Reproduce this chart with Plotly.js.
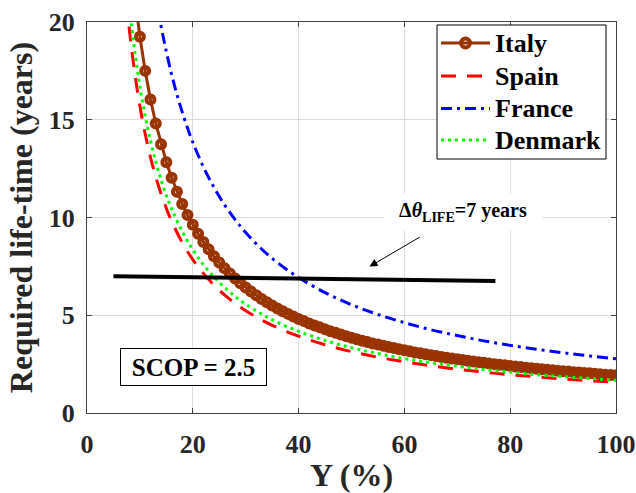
<!DOCTYPE html>
<html>
<head>
<meta charset="utf-8">
<script src="https://cdn.plot.ly/plotly-3.0.1.min.js"></script>
<style>
  html, body { margin: 0; padding: 0; background: #fff; }
  #chart { width: 636px; height: 493px; }
</style>
</head>
<body>
<div id="chart"></div>
<script>
// Yield Y (%) sampled at every integer for the Italy curve (drawn with markers)
const yieldItaly = [
  9, 10, 11, 12, 13, 14, 15, 16, 17, 18, 19, 20, 21, 22, 23, 24, 25, 26, 27, 28, 29, 30,
  31, 32, 33, 34, 35, 36, 37, 38, 39, 40, 41, 42, 43, 44, 45, 46, 47, 48, 49, 50,
  51, 52, 53, 54, 55, 56, 57, 58, 59, 60, 61, 62, 63, 64, 65, 66, 67, 68, 69, 70,
  71, 72, 73, 74, 75, 76, 77, 78, 79, 80, 81, 82, 83, 84, 85, 86, 87, 88, 89, 90,
  91, 92, 93, 94, 95, 96, 97, 98, 99, 100
];
const lifeItaly = [
  21.39, 19.25, 17.50, 16.04, 14.81, 13.75, 12.83, 12.03, 11.32, 10.69, 10.13, 9.63, 9.17, 8.75, 8.37, 8.02, 7.70, 7.40, 7.13, 6.88, 6.64, 6.42,
  6.21, 6.02, 5.83, 5.66, 5.50, 5.35, 5.20, 5.07, 4.94, 4.81, 4.70, 4.58, 4.48, 4.38, 4.28, 4.18, 4.10, 4.01, 3.93, 3.85,
  3.77, 3.70, 3.63, 3.56, 3.50, 3.44, 3.38, 3.32, 3.26, 3.21, 3.16, 3.10, 3.06, 3.01, 2.96, 2.92, 2.87, 2.83, 2.79, 2.75,
  2.71, 2.67, 2.64, 2.60, 2.57, 2.53, 2.50, 2.47, 2.44, 2.41, 2.38, 2.35, 2.32, 2.29, 2.26, 2.24, 2.21, 2.19, 2.16, 2.14,
  2.12, 2.09, 2.07, 2.05, 2.03, 2.01, 1.98, 1.96, 1.94, 1.93
];

// Yield samples for the Spain and Denmark curves
const yieldLow = [7, 8, 9, 10, 11, 12, 13, 14, 15, 16, 18, 20, 22, 24, 26, 28, 30, 33, 36, 40, 45, 50, 55, 60, 65, 70, 75, 80, 85, 90, 95, 100];
const lifeSpain = [22.43, 19.63, 17.44, 15.70, 14.27, 13.08, 12.08, 11.21, 10.47, 9.81, 8.72, 7.85, 7.14, 6.54, 6.04, 5.61, 5.23, 4.76, 4.36, 3.93, 3.49, 3.14, 2.85, 2.62, 2.42, 2.24, 2.09, 1.96, 1.85, 1.74, 1.65, 1.57];
const lifeDenmark = [23.86, 20.88, 18.56, 16.70, 15.18, 13.92, 12.85, 11.93, 11.13, 10.44, 9.28, 8.35, 7.59, 6.96, 6.42, 5.96, 5.57, 5.06, 4.64, 4.18, 3.71, 3.34, 3.04, 2.78, 2.57, 2.39, 2.23, 2.09, 1.96, 1.86, 1.76, 1.67];

// Yield samples for the France curve
const yieldFrance = [12, 13, 14, 15, 16, 17, 18, 19, 20, 22, 24, 26, 28, 30, 33, 36, 40, 45, 50, 55, 60, 65, 70, 75, 80, 85, 90, 95, 100];
const lifeFrance = [23.08, 21.31, 19.79, 18.47, 17.31, 16.29, 15.39, 14.58, 13.85, 12.59, 11.54, 10.65, 9.89, 9.23, 8.39, 7.69, 6.93, 6.16, 5.54, 5.04, 4.62, 4.26, 3.96, 3.69, 3.46, 3.26, 3.08, 2.92, 2.77];

// Expected life-time reference line (Δθ_LIFE = 7 years)
const refYield = [5, 77.2];
const refLife = [7.0, 6.75];

const xTicks = [0, 20, 40, 60, 80, 100];
const yTicks = [0, 5, 10, 15, 20];

const FONT = 'Liberation Serif';
const INK = '#262626';

// Plot-area geometry in pixels (matches layout.margin below)
const M = { l: 87, r: 20, t: 22, b: 80 };
const W = 636, H = 493;
const PW = W - M.l - M.r, PH = H - M.t - M.b;
const px2x = px => (px - M.l) / PW;
const py2y = py => (H - M.b - py) / PH;

const series = [
  { name: 'Italy', x: yieldItaly, y: lifeItaly, color: '#993300', dash: 'solid', marker: true },
  { name: 'Spain', x: yieldLow, y: lifeSpain, color: '#ff0000', dash: '15px,11px' },
  { name: 'France', x: yieldFrance, y: lifeFrance, color: '#0000ff', dash: '11px,5px,3px,5px' },
  { name: 'Denmark', x: yieldLow, y: lifeDenmark, color: '#00ff00', dash: '3px,4px' }
];

const traces = series.map(s => {
  const t = {
    x: s.x, y: s.y, name: s.name, type: 'scatter', showlegend: false,
    mode: s.marker ? 'lines+markers' : 'lines',
    line: { color: s.color, width: 3, dash: s.dash }
  };
  if (s.marker) {
    t.marker = { symbol: 'circle-open', size: 8, color: s.color, line: { color: s.color, width: 4 } };
  } else {
    t.line.shape = 'spline';
    t.line.smoothing = 1;
  }
  return t;
});
traces.push({
  x: refYield, y: refLife, name: 'reference', mode: 'lines', type: 'scatter',
  showlegend: false, hoverinfo: 'skip',
  line: { color: '#000000', width: 4 }
});

// Boxed legend in the upper-right corner (pixel positions of box and rows)
const legendBox = { x0: 437, x1: 606, y0: 25, y1: 159 };
const legendRowsY = [43, 76, 108.5, 140];
const legendLine = { x0: 441, x1: 490 };
const legendTextX = 493;

const shapes = [{
  type: 'rect', xref: 'paper', yref: 'paper', layer: 'above',
  x0: px2x(legendBox.x0), x1: px2x(legendBox.x1), y0: py2y(legendBox.y1), y1: py2y(legendBox.y0),
  line: { color: '#000000', width: 1 }, fillcolor: '#ffffff'
}];
const annotations = [];

series.forEach((s, i) => {
  const ry = legendRowsY[i];
  shapes.push({
    type: 'line', xref: 'paper', yref: 'paper', layer: 'above',
    x0: px2x(legendLine.x0), x1: px2x(legendLine.x1), y0: py2y(ry), y1: py2y(ry),
    line: { color: s.color, width: 3, dash: s.dash }
  });
  if (s.marker) {
    const cx = (legendLine.x0 + legendLine.x1) / 2, r = 4.5;
    shapes.push({
      type: 'circle', xref: 'paper', yref: 'paper', layer: 'above',
      x0: px2x(cx - r), x1: px2x(cx + r), y0: py2y(ry + r), y1: py2y(ry - r),
      line: { color: s.color, width: 4 }, fillcolor: 'rgba(0,0,0,0)'
    });
  }
  annotations.push({
    xref: 'paper', yref: 'paper', x: px2x(legendTextX), y: py2y(ry),
    xanchor: 'left', yanchor: 'middle', showarrow: false,
    text: '<b>' + s.name + '</b>',
    font: { family: FONT, size: 26, color: '#000000' }
  });
});

// Label with arrow pointing at the reference line
annotations.push({
  x: 53.4, y: 7.49, xref: 'x', yref: 'y',
  ax: 71.0, ay: 10.28, axref: 'x', ayref: 'y',
  showarrow: true, arrowhead: 2, arrowsize: 1.6, arrowwidth: 1, arrowcolor: '#000000',
  startstandoff: 13,
  text: '<b>Δ<i>θ</i><sub>LIFE</sub>=7 years</b>',
  font: { family: FONT, size: 20, color: '#000000' },
  width: 152, height: 30, bgcolor: '#ffffff', borderpad: 3
});

// Boxed operating-condition label
annotations.push({
  x: 20.1, y: 2.33, xref: 'x', yref: 'y', showarrow: false,
  text: '<b>SCOP = 2.5</b>',
  font: { family: FONT, size: 25, color: '#000000' },
  width: 141, height: 32,
  bgcolor: '#ffffff', bordercolor: '#000000', borderwidth: 1, borderpad: 2
});

const axisCommon = {
  showline: true, linecolor: '#404040', linewidth: 1, mirror: 'ticks',
  ticks: 'inside', ticklen: 5, tickwidth: 1, tickcolor: '#404040',
  showgrid: true, gridcolor: '#dcdcdc', gridwidth: 1,
  zeroline: false, fixedrange: true,
  tickfont: { family: FONT, size: 26, color: INK, weight: 700 }
};

const layout = {
  width: W, height: H,
  margin: M,
  paper_bgcolor: '#ffffff', plot_bgcolor: '#ffffff',
  font: { family: FONT, color: INK },
  showlegend: false,
  xaxis: Object.assign({}, axisCommon, {
    range: [0, 100], tickvals: xTicks, ticktext: xTicks.map(v => '<b>' + v + '</b>'),
    ticklabelstandoff: 8,
    title: { text: '<b>Y (%)</b>', font: { family: FONT, size: 32, color: INK }, standoff: 4 }
  }),
  yaxis: Object.assign({}, axisCommon, {
    range: [0, 20], tickvals: yTicks, ticktext: yTicks.map(v => '<b>' + v + '</b>'),
    ticklabelstandoff: 6,
    title: { text: '<b>Required life-time (years)</b>', font: { family: FONT, size: 32, color: INK }, standoff: 6 }
  }),
  shapes: shapes,
  annotations: annotations
};

Plotly.newPlot('chart', traces, layout, { staticPlot: true, displayModeBar: false });
</script>
</body>
</html>
